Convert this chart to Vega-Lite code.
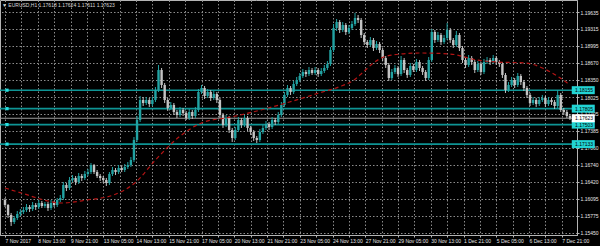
{
"$schema": "https://vega.github.io/schema/vega-lite/v6.json",
"width": 577, "height": 235,
"autosize": "none",
"padding": {"left": 0, "top": 0, "right": 23, "bottom": 11},
"background": "#000000",
"view": {"stroke": "#b4b4b4", "strokeWidth": 1},
"title": {"text": "▼ EURUSD,H1  1.17618 1.17624 1.17611 1.17623", "anchor": "start", "frame": "group", "offset": -8, "dx": 2, "fontSize": 5, "fontWeight": "normal", "color": "#d8d8d8", "font": "Liberation Sans"},
"config": {
 "font": "Liberation Sans",
 "axis": {"title": null, "grid": true, "gridColor": "#8c8c8c", "gridDash": [1.5, 2], "gridWidth": 1,
  "domainColor": "#b4b4b4", "tickColor": "#b4b4b4", "tickSize": 2, "tickCount": 200,
  "labelColor": "#e6e6e6", "labelFontSize": 5, "labelFont": "Liberation Sans", "labelPadding": 1,
  "labelOverlap": false, "labelBound": false, "labelFlush": false},
 "axisX": {"labelAlign": "left", "labelBaseline": "top"},
 "axisY": {"labelBaseline": "middle"}
},
"datasets": {
"levels": [{"p": 1.18155}, {"p": 1.17805}, {"p": 1.17503}, {"p": 1.17133}],
"cur": [{"p": 1.17623}],
"ma": [{"t":0,"p":1.16302},{"t":19,"p":1.16189},{"t":38,"p":1.16075},{"t":55,"p":1.16018},{"t":80,"p":1.16075},{"t":106,"p":1.16170},{"t":128,"p":1.16416},{"t":147,"p":1.16833},{"t":170,"p":1.17268},{"t":192,"p":1.17534},{"t":221,"p":1.17647},{"t":250,"p":1.17780},{"t":278,"p":1.17931},{"t":307,"p":1.18102},{"t":326,"p":1.18215},{"t":341,"p":1.18348},{"t":350,"p":1.18499},{"t":360,"p":1.18670},{"t":370,"p":1.18783},{"t":387,"p":1.18840},{"t":406,"p":1.18859},{"t":435,"p":1.18840},{"t":461,"p":1.18727},{"t":480,"p":1.18689},{"t":509,"p":1.18670},{"t":525,"p":1.18575},{"t":541,"p":1.18405},{"t":552,"p":1.18253}],
"candles": [
{"t":0,"o":1.16075,"hi":1.16113,"lo":1.15942,"c":1.15980},
{"t":3,"o":1.15980,"hi":1.15999,"lo":1.15734,"c":1.15791},
{"t":6,"o":1.15791,"hi":1.15829,"lo":1.15583,"c":1.15658},
{"t":9,"o":1.15658,"hi":1.15772,"lo":1.15620,"c":1.15734},
{"t":12,"o":1.15734,"hi":1.15867,"lo":1.15696,"c":1.15810},
{"t":15,"o":1.15810,"hi":1.15904,"lo":1.15772,"c":1.15848},
{"t":18,"o":1.15848,"hi":1.15942,"lo":1.15810,"c":1.15886},
{"t":21,"o":1.15886,"hi":1.15999,"lo":1.15848,"c":1.15942},
{"t":24,"o":1.15942,"hi":1.15980,"lo":1.15848,"c":1.15904},
{"t":27,"o":1.15904,"hi":1.16037,"lo":1.15867,"c":1.15980},
{"t":30,"o":1.15980,"hi":1.16018,"lo":1.15886,"c":1.15942},
{"t":33,"o":1.15942,"hi":1.16075,"lo":1.15904,"c":1.16018},
{"t":36,"o":1.16018,"hi":1.16056,"lo":1.15923,"c":1.15961},
{"t":39,"o":1.15961,"hi":1.16037,"lo":1.15923,"c":1.15999},
{"t":42,"o":1.15999,"hi":1.16037,"lo":1.15867,"c":1.15923},
{"t":45,"o":1.15923,"hi":1.16075,"lo":1.15886,"c":1.16018},
{"t":48,"o":1.16018,"hi":1.16056,"lo":1.15942,"c":1.15980},
{"t":51,"o":1.15980,"hi":1.16113,"lo":1.15942,"c":1.16075},
{"t":54,"o":1.16075,"hi":1.16170,"lo":1.16037,"c":1.16113},
{"t":57,"o":1.16113,"hi":1.16416,"lo":1.16075,"c":1.16359},
{"t":60,"o":1.16359,"hi":1.16397,"lo":1.16245,"c":1.16302},
{"t":63,"o":1.16302,"hi":1.16510,"lo":1.16264,"c":1.16454},
{"t":66,"o":1.16454,"hi":1.16548,"lo":1.16416,"c":1.16492},
{"t":69,"o":1.16492,"hi":1.16529,"lo":1.16359,"c":1.16416},
{"t":72,"o":1.16416,"hi":1.16586,"lo":1.16378,"c":1.16529},
{"t":75,"o":1.16529,"hi":1.16567,"lo":1.16435,"c":1.16492},
{"t":78,"o":1.16492,"hi":1.16624,"lo":1.16454,"c":1.16567},
{"t":81,"o":1.16567,"hi":1.16662,"lo":1.16529,"c":1.16605},
{"t":84,"o":1.16605,"hi":1.16776,"lo":1.16567,"c":1.16738},
{"t":87,"o":1.16738,"hi":1.16757,"lo":1.16567,"c":1.16605},
{"t":90,"o":1.16605,"hi":1.16643,"lo":1.16492,"c":1.16529},
{"t":93,"o":1.16529,"hi":1.16567,"lo":1.16435,"c":1.16492},
{"t":96,"o":1.16492,"hi":1.16529,"lo":1.16397,"c":1.16454},
{"t":99,"o":1.16454,"hi":1.16492,"lo":1.16340,"c":1.16397},
{"t":102,"o":1.16397,"hi":1.16605,"lo":1.16359,"c":1.16567},
{"t":105,"o":1.16567,"hi":1.16700,"lo":1.16529,"c":1.16643},
{"t":108,"o":1.16643,"hi":1.16681,"lo":1.16548,"c":1.16605},
{"t":111,"o":1.16605,"hi":1.16738,"lo":1.16567,"c":1.16681},
{"t":114,"o":1.16681,"hi":1.16719,"lo":1.16605,"c":1.16643},
{"t":117,"o":1.16643,"hi":1.16757,"lo":1.16605,"c":1.16700},
{"t":120,"o":1.16700,"hi":1.16795,"lo":1.16662,"c":1.16738},
{"t":123,"o":1.16738,"hi":1.16889,"lo":1.16700,"c":1.16833},
{"t":126,"o":1.16833,"hi":1.17268,"lo":1.16795,"c":1.17212},
{"t":129,"o":1.17212,"hi":1.17666,"lo":1.17174,"c":1.17590},
{"t":132,"o":1.17590,"hi":1.18045,"lo":1.17552,"c":1.17969},
{"t":135,"o":1.17969,"hi":1.18026,"lo":1.17855,"c":1.17912},
{"t":138,"o":1.17912,"hi":1.18026,"lo":1.17874,"c":1.17969},
{"t":141,"o":1.17969,"hi":1.18007,"lo":1.17837,"c":1.17893},
{"t":144,"o":1.17893,"hi":1.18026,"lo":1.17855,"c":1.17969},
{"t":147,"o":1.17969,"hi":1.18215,"lo":1.17931,"c":1.18158},
{"t":150,"o":1.18158,"hi":1.18632,"lo":1.18121,"c":1.18537},
{"t":153,"o":1.18537,"hi":1.18575,"lo":1.18196,"c":1.18253},
{"t":156,"o":1.18253,"hi":1.18291,"lo":1.17912,"c":1.17969},
{"t":159,"o":1.17969,"hi":1.18007,"lo":1.17761,"c":1.17818},
{"t":162,"o":1.17818,"hi":1.17931,"lo":1.17780,"c":1.17874},
{"t":165,"o":1.17874,"hi":1.17912,"lo":1.17685,"c":1.17742},
{"t":168,"o":1.17742,"hi":1.17780,"lo":1.17628,"c":1.17685},
{"t":171,"o":1.17685,"hi":1.17837,"lo":1.17647,"c":1.17780},
{"t":174,"o":1.17780,"hi":1.17818,"lo":1.17666,"c":1.17723},
{"t":177,"o":1.17723,"hi":1.17761,"lo":1.17590,"c":1.17628},
{"t":180,"o":1.17628,"hi":1.17799,"lo":1.17590,"c":1.17742},
{"t":183,"o":1.17742,"hi":1.17780,"lo":1.17609,"c":1.17666},
{"t":186,"o":1.17666,"hi":1.17837,"lo":1.17628,"c":1.17780},
{"t":189,"o":1.17780,"hi":1.18177,"lo":1.17742,"c":1.18121},
{"t":192,"o":1.18121,"hi":1.18253,"lo":1.18083,"c":1.18196},
{"t":195,"o":1.18196,"hi":1.18234,"lo":1.17988,"c":1.18045},
{"t":198,"o":1.18045,"hi":1.18177,"lo":1.18007,"c":1.18121},
{"t":201,"o":1.18121,"hi":1.18158,"lo":1.17950,"c":1.18007},
{"t":204,"o":1.18007,"hi":1.18140,"lo":1.17969,"c":1.18083},
{"t":207,"o":1.18083,"hi":1.18121,"lo":1.17912,"c":1.17969},
{"t":210,"o":1.17969,"hi":1.18007,"lo":1.17628,"c":1.17685},
{"t":213,"o":1.17685,"hi":1.17723,"lo":1.17439,"c":1.17496},
{"t":216,"o":1.17496,"hi":1.17685,"lo":1.17458,"c":1.17628},
{"t":219,"o":1.17628,"hi":1.17666,"lo":1.17344,"c":1.17401},
{"t":222,"o":1.17401,"hi":1.17439,"lo":1.17174,"c":1.17249},
{"t":225,"o":1.17249,"hi":1.17458,"lo":1.17212,"c":1.17401},
{"t":228,"o":1.17401,"hi":1.17647,"lo":1.17363,"c":1.17590},
{"t":231,"o":1.17590,"hi":1.17628,"lo":1.17439,"c":1.17496},
{"t":234,"o":1.17496,"hi":1.17685,"lo":1.17458,"c":1.17628},
{"t":237,"o":1.17628,"hi":1.17666,"lo":1.17382,"c":1.17439},
{"t":240,"o":1.17439,"hi":1.17477,"lo":1.17306,"c":1.17363},
{"t":243,"o":1.17363,"hi":1.17401,"lo":1.17193,"c":1.17249},
{"t":246,"o":1.17249,"hi":1.17287,"lo":1.17155,"c":1.17212},
{"t":249,"o":1.17212,"hi":1.17420,"lo":1.17174,"c":1.17363},
{"t":252,"o":1.17363,"hi":1.17496,"lo":1.17325,"c":1.17439},
{"t":255,"o":1.17439,"hi":1.17571,"lo":1.17401,"c":1.17515},
{"t":258,"o":1.17515,"hi":1.17552,"lo":1.17401,"c":1.17458},
{"t":261,"o":1.17458,"hi":1.17647,"lo":1.17420,"c":1.17590},
{"t":264,"o":1.17590,"hi":1.17628,"lo":1.17496,"c":1.17552},
{"t":267,"o":1.17552,"hi":1.17742,"lo":1.17515,"c":1.17685},
{"t":270,"o":1.17685,"hi":1.17931,"lo":1.17647,"c":1.17874},
{"t":273,"o":1.17874,"hi":1.18121,"lo":1.17837,"c":1.18064},
{"t":276,"o":1.18064,"hi":1.18253,"lo":1.18026,"c":1.18196},
{"t":279,"o":1.18196,"hi":1.18234,"lo":1.18064,"c":1.18121},
{"t":282,"o":1.18121,"hi":1.18329,"lo":1.18083,"c":1.18272},
{"t":285,"o":1.18272,"hi":1.18405,"lo":1.18234,"c":1.18348},
{"t":288,"o":1.18348,"hi":1.18480,"lo":1.18310,"c":1.18424},
{"t":291,"o":1.18424,"hi":1.18556,"lo":1.18386,"c":1.18499},
{"t":294,"o":1.18499,"hi":1.18537,"lo":1.18405,"c":1.18461},
{"t":297,"o":1.18461,"hi":1.18594,"lo":1.18424,"c":1.18537},
{"t":300,"o":1.18537,"hi":1.18575,"lo":1.18443,"c":1.18480},
{"t":303,"o":1.18480,"hi":1.18594,"lo":1.18443,"c":1.18537},
{"t":306,"o":1.18537,"hi":1.18575,"lo":1.18405,"c":1.18461},
{"t":309,"o":1.18461,"hi":1.18575,"lo":1.18424,"c":1.18518},
{"t":312,"o":1.18518,"hi":1.18632,"lo":1.18480,"c":1.18575},
{"t":315,"o":1.18575,"hi":1.18708,"lo":1.18537,"c":1.18651},
{"t":318,"o":1.18651,"hi":1.18973,"lo":1.18613,"c":1.18916},
{"t":321,"o":1.18916,"hi":1.19408,"lo":1.18878,"c":1.19333},
{"t":324,"o":1.19333,"hi":1.19503,"lo":1.19276,"c":1.19446},
{"t":327,"o":1.19446,"hi":1.19484,"lo":1.19238,"c":1.19295},
{"t":330,"o":1.19295,"hi":1.19446,"lo":1.19257,"c":1.19390},
{"t":333,"o":1.19390,"hi":1.19427,"lo":1.19200,"c":1.19257},
{"t":336,"o":1.19257,"hi":1.19390,"lo":1.19219,"c":1.19333},
{"t":339,"o":1.19333,"hi":1.19465,"lo":1.19295,"c":1.19408},
{"t":342,"o":1.19408,"hi":1.19617,"lo":1.19371,"c":1.19522},
{"t":345,"o":1.19522,"hi":1.19579,"lo":1.19427,"c":1.19484},
{"t":348,"o":1.19484,"hi":1.19522,"lo":1.19143,"c":1.19200},
{"t":351,"o":1.19200,"hi":1.19238,"lo":1.19011,"c":1.19068},
{"t":354,"o":1.19068,"hi":1.19105,"lo":1.18954,"c":1.19011},
{"t":357,"o":1.19011,"hi":1.19162,"lo":1.18973,"c":1.19105},
{"t":360,"o":1.19105,"hi":1.19143,"lo":1.18897,"c":1.18954},
{"t":363,"o":1.18954,"hi":1.19086,"lo":1.18916,"c":1.19030},
{"t":366,"o":1.19030,"hi":1.19068,"lo":1.18859,"c":1.18916},
{"t":369,"o":1.18916,"hi":1.18954,"lo":1.18708,"c":1.18765},
{"t":372,"o":1.18765,"hi":1.18802,"lo":1.18575,"c":1.18632},
{"t":375,"o":1.18632,"hi":1.18670,"lo":1.18329,"c":1.18386},
{"t":378,"o":1.18386,"hi":1.18556,"lo":1.18348,"c":1.18499},
{"t":381,"o":1.18499,"hi":1.18632,"lo":1.18461,"c":1.18575},
{"t":384,"o":1.18575,"hi":1.18613,"lo":1.18405,"c":1.18461},
{"t":387,"o":1.18461,"hi":1.18802,"lo":1.18424,"c":1.18727},
{"t":390,"o":1.18727,"hi":1.18765,"lo":1.18480,"c":1.18537},
{"t":393,"o":1.18537,"hi":1.18575,"lo":1.18386,"c":1.18443},
{"t":396,"o":1.18443,"hi":1.18670,"lo":1.18405,"c":1.18613},
{"t":399,"o":1.18613,"hi":1.18651,"lo":1.18499,"c":1.18537},
{"t":402,"o":1.18537,"hi":1.18746,"lo":1.18499,"c":1.18689},
{"t":405,"o":1.18689,"hi":1.18727,"lo":1.18518,"c":1.18575},
{"t":408,"o":1.18575,"hi":1.18613,"lo":1.18443,"c":1.18499},
{"t":411,"o":1.18499,"hi":1.18537,"lo":1.18329,"c":1.18386},
{"t":414,"o":1.18386,"hi":1.18783,"lo":1.18348,"c":1.18727},
{"t":417,"o":1.18727,"hi":1.19314,"lo":1.18689,"c":1.19257},
{"t":420,"o":1.19257,"hi":1.19295,"lo":1.19049,"c":1.19105},
{"t":423,"o":1.19105,"hi":1.19257,"lo":1.19068,"c":1.19200},
{"t":426,"o":1.19200,"hi":1.19238,"lo":1.19011,"c":1.19068},
{"t":429,"o":1.19068,"hi":1.19200,"lo":1.19030,"c":1.19143},
{"t":432,"o":1.19143,"hi":1.19427,"lo":1.19105,"c":1.19295},
{"t":435,"o":1.19295,"hi":1.19333,"lo":1.19049,"c":1.19105},
{"t":438,"o":1.19105,"hi":1.19143,"lo":1.18954,"c":1.19011},
{"t":441,"o":1.19011,"hi":1.19276,"lo":1.18973,"c":1.19200},
{"t":444,"o":1.19200,"hi":1.19238,"lo":1.18897,"c":1.18954},
{"t":447,"o":1.18954,"hi":1.18992,"lo":1.18670,"c":1.18727},
{"t":450,"o":1.18727,"hi":1.18765,"lo":1.18575,"c":1.18632},
{"t":453,"o":1.18632,"hi":1.18821,"lo":1.18594,"c":1.18765},
{"t":456,"o":1.18765,"hi":1.18802,"lo":1.18632,"c":1.18689},
{"t":459,"o":1.18689,"hi":1.18727,"lo":1.18480,"c":1.18537},
{"t":462,"o":1.18537,"hi":1.18708,"lo":1.18499,"c":1.18651},
{"t":465,"o":1.18651,"hi":1.18689,"lo":1.18443,"c":1.18499},
{"t":468,"o":1.18499,"hi":1.18746,"lo":1.18461,"c":1.18689},
{"t":471,"o":1.18689,"hi":1.18783,"lo":1.18651,"c":1.18727},
{"t":474,"o":1.18727,"hi":1.18765,"lo":1.18632,"c":1.18689},
{"t":477,"o":1.18689,"hi":1.18821,"lo":1.18651,"c":1.18765},
{"t":480,"o":1.18765,"hi":1.18802,"lo":1.18632,"c":1.18689},
{"t":483,"o":1.18689,"hi":1.18727,"lo":1.18594,"c":1.18651},
{"t":486,"o":1.18651,"hi":1.18689,"lo":1.18386,"c":1.18443},
{"t":489,"o":1.18443,"hi":1.18480,"lo":1.18102,"c":1.18158},
{"t":492,"o":1.18158,"hi":1.18310,"lo":1.18121,"c":1.18253},
{"t":495,"o":1.18253,"hi":1.18405,"lo":1.18215,"c":1.18348},
{"t":498,"o":1.18348,"hi":1.18386,"lo":1.18196,"c":1.18253},
{"t":501,"o":1.18253,"hi":1.18480,"lo":1.18215,"c":1.18424},
{"t":504,"o":1.18424,"hi":1.18461,"lo":1.18253,"c":1.18310},
{"t":507,"o":1.18310,"hi":1.18348,"lo":1.18140,"c":1.18196},
{"t":510,"o":1.18196,"hi":1.18234,"lo":1.18007,"c":1.18064},
{"t":513,"o":1.18064,"hi":1.18102,"lo":1.17855,"c":1.17912},
{"t":516,"o":1.17912,"hi":1.18026,"lo":1.17874,"c":1.17969},
{"t":519,"o":1.17969,"hi":1.18007,"lo":1.17837,"c":1.17893},
{"t":522,"o":1.17893,"hi":1.18026,"lo":1.17855,"c":1.17969},
{"t":525,"o":1.17969,"hi":1.18064,"lo":1.17931,"c":1.18007},
{"t":528,"o":1.18007,"hi":1.18045,"lo":1.17837,"c":1.17893},
{"t":531,"o":1.17893,"hi":1.18026,"lo":1.17855,"c":1.17969},
{"t":534,"o":1.17969,"hi":1.18007,"lo":1.17874,"c":1.17931},
{"t":537,"o":1.17931,"hi":1.17969,"lo":1.17799,"c":1.17855},
{"t":540,"o":1.17855,"hi":1.18158,"lo":1.17818,"c":1.18064},
{"t":543,"o":1.18064,"hi":1.18102,"lo":1.17742,"c":1.17780},
{"t":546,"o":1.17780,"hi":1.17818,"lo":1.17685,"c":1.17742},
{"t":549,"o":1.17742,"hi":1.17780,"lo":1.17628,"c":1.17666},
{"t":552,"o":1.17666,"hi":1.17704,"lo":1.17590,"c":1.17623}
]
},
"layer": [
{"data": {"name": "levels"},
 "mark": {"type": "rule", "color": "#0e9494", "strokeWidth": 1.6},
 "encoding": {
  "y": {"field": "p", "type": "quantitative",
   "scale": {"domain": [1.15412, 1.19863], "nice": false, "zero": false},
   "axis": {"orient": "right", "tickCount": 200,
    "values": [1.1545, 1.15775, 1.16095, 1.1642, 1.1674, 1.1706, 1.17385, 1.17705, 1.18025, 1.1835, 1.1867, 1.18995, 1.19315, 1.19635],
    "format": ".5f", "labelOverlap": false}}}},
{"data": {"name": "cur"},
 "mark": {"type": "rule", "color": "#9c9c9c", "strokeWidth": 1},
 "encoding": {"y": {"field": "p", "type": "quantitative"}}},
{"data": {"name": "candles"},
 "mark": {"type": "rule", "strokeWidth": 1},
 "encoding": {
  "x": {"field": "t", "type": "quantitative",
   "scale": {"domain": [0, 554], "nice": false, "zero": false},
   "axis": {"orient": "bottom", "tickCount": 200,
    "values": [0,16,32,48,64,80,96,112,128,144,160,176,192,208,224,240,256,272,288,304,320,336,352,368,384,400,416,432,448,464,480,496,512,528,544],
    "labelExpr": "['7 Nov 2017','8 Nov 13:00','9 Nov 21:00','13 Nov 05:00','14 Nov 13:00','15 Nov 21:00','17 Nov 05:00','20 Nov 13:00','21 Nov 21:00','23 Nov 05:00','24 Nov 13:00','27 Nov 21:00','29 Nov 05:00','30 Nov 13:00','1 Dec 21:00','5 Dec 05:00','6 Dec 13:00','7 Dec 21:00'][datum.value/32] || ''",
    "labelOverlap": false}},
  "y": {"field": "lo", "type": "quantitative"},
  "y2": {"field": "hi"},
  "color": {"condition": {"test": "datum.c >= datum.o", "value": "#22a3a3"}, "value": "#c4c4c4"}}},
{"data": {"name": "candles"},
 "mark": {"type": "bar", "width": 2.4},
 "encoding": {
  "x": {"field": "t", "type": "quantitative"},
  "y": {"field": "o", "type": "quantitative"},
  "y2": {"field": "c"},
  "color": {"condition": {"test": "datum.c >= datum.o", "value": "#22a3a3"}, "value": "#c4c4c4"}}},
{"data": {"name": "ma"},
 "mark": {"type": "line", "color": "#b31414", "strokeWidth": 1.2, "strokeDash": [4, 3], "interpolate": "monotone"},
 "encoding": {"x": {"field": "t", "type": "quantitative"}, "y": {"field": "p", "type": "quantitative"}}},
{"data": {"name": "levels"},
 "mark": {"type": "point", "shape": "square", "filled": true, "size": 10, "color": "#25e0e0", "opacity": 1, "clip": false},
 "encoding": {"x": {"datum": 2, "type": "quantitative"}, "y": {"field": "p", "type": "quantitative"}}},
{"data": {"name": "levels"},
 "mark": {"type": "tick", "orient": "horizontal", "size": 23, "thickness": 8, "color": "#22d4d4", "opacity": 1, "clip": false},
 "encoding": {"x": {"datum": 565, "type": "quantitative"}, "y": {"field": "p", "type": "quantitative"}}},
{"data": {"name": "levels"},
 "mark": {"type": "text", "align": "left", "baseline": "middle", "dx": 3, "fontSize": 5, "font": "Liberation Sans", "color": "#000000", "clip": false},
 "encoding": {"x": {"datum": 554, "type": "quantitative"}, "y": {"field": "p", "type": "quantitative"}, "text": {"field": "p", "type": "quantitative", "format": ".5f"}}},
{"data": {"name": "cur"},
 "mark": {"type": "tick", "orient": "horizontal", "size": 23, "thickness": 8, "color": "#ffffff", "opacity": 1, "clip": false},
 "encoding": {"x": {"datum": 565, "type": "quantitative"}, "y": {"field": "p", "type": "quantitative"}}},
{"data": {"name": "cur"},
 "mark": {"type": "text", "align": "left", "baseline": "middle", "dx": 3, "fontSize": 5, "font": "Liberation Sans", "color": "#000000", "clip": false},
 "encoding": {"x": {"datum": 554, "type": "quantitative"}, "y": {"field": "p", "type": "quantitative"}, "text": {"field": "p", "type": "quantitative", "format": ".5f"}}}
]
}
